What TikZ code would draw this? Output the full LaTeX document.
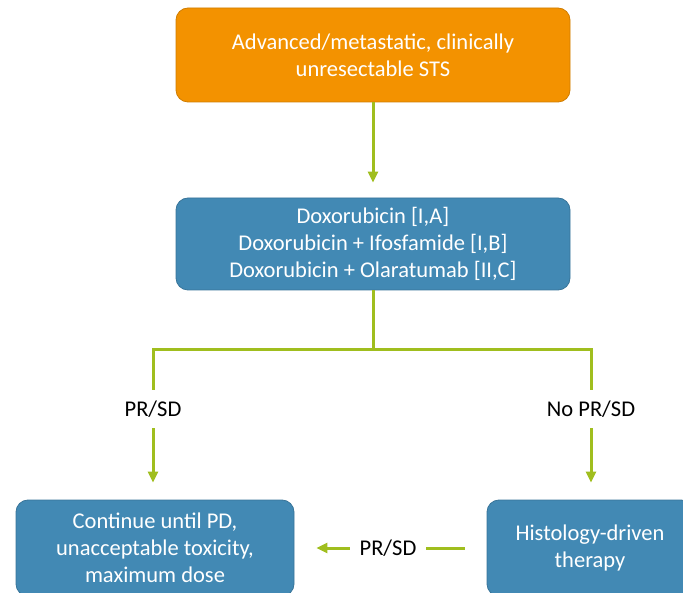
\documentclass[tikz,border=0pt]{standalone}
\usepackage{fontspec}
\setmainfont{Carlito}
\usetikzlibrary{arrows.meta}
\definecolor{orangebox}{RGB}{243,146,0}
\definecolor{bluebox}{RGB}{66,137,180}
\definecolor{greenline}{RGB}{160,190,30}
\begin{document}
\begin{tikzpicture}[x=1pt,y=1pt,
  box/.style={rounded corners=12pt, draw=#1!85!black, line width=0.8pt, fill=#1, text=white, align=center, font=\fontsize{22.5}{26.8}\selectfont, inner sep=0pt},
  conn/.style={draw=greenline, line width=3pt},
  arr/.style={conn, -{Triangle[width=10pt,length=11pt]}},
  lab/.style={font=\fontsize{22.5}{26.8}\selectfont, text=black, inner sep=0pt}]
\path[use as bounding box, clip] (0,0) rectangle (683,-593);
\node[box=orangebox, minimum width=394pt, minimum height=94pt] (top) at (373,-55) {Advanced/metastatic, clinically\\unresectable STS};
\node[box=bluebox, minimum width=394pt, minimum height=92pt] (mid) at (373,-244) {Doxorubicin [I,A]\\Doxorubicin + Ifosfamide [I,B]\\Doxorubicin + Olaratumab [II,C]};
\node[box=bluebox, minimum width=278pt, minimum height=96pt] (left) at (155,-548) {Continue until PD,\\unacceptable toxicity,\\maximum dose};
\node[box=bluebox, minimum width=206pt, minimum height=96pt] (right) at (590,-548) {Histology-driven\\therapy};
\coordinate (bl) at (153,-350);
\coordinate (br) at (591,-350);
\node[lab, minimum height=38pt] (lpr) at (153,-409) {PR/SD};
\node[lab, minimum height=38pt] (rpr) at (591,-409) {No PR/SD};
\node[lab, minimum width=76pt, minimum height=20pt] (hpr) at (388,-548) {PR/SD};
\draw[arr] (top.south) -- ([yshift=15pt]mid.north);
\draw[conn] (mid.south) -- (mid.south |- bl);
\draw[conn, line cap=rect] (bl) -- (br);
\draw[conn] (bl) -- (lpr.north);
\draw[conn] (br) -- (rpr.north);
\draw[arr] (lpr.south) -- ([yshift=17pt]left.north -| lpr.south);
\draw[arr] (rpr.south) -- ([yshift=17pt]right.north -| rpr.south);
\draw[conn] ([xshift=-22pt]right.west) -- (hpr.east);
\draw[arr] (hpr.west) -- ([xshift=22pt]left.east);
\end{tikzpicture}
\end{document}
